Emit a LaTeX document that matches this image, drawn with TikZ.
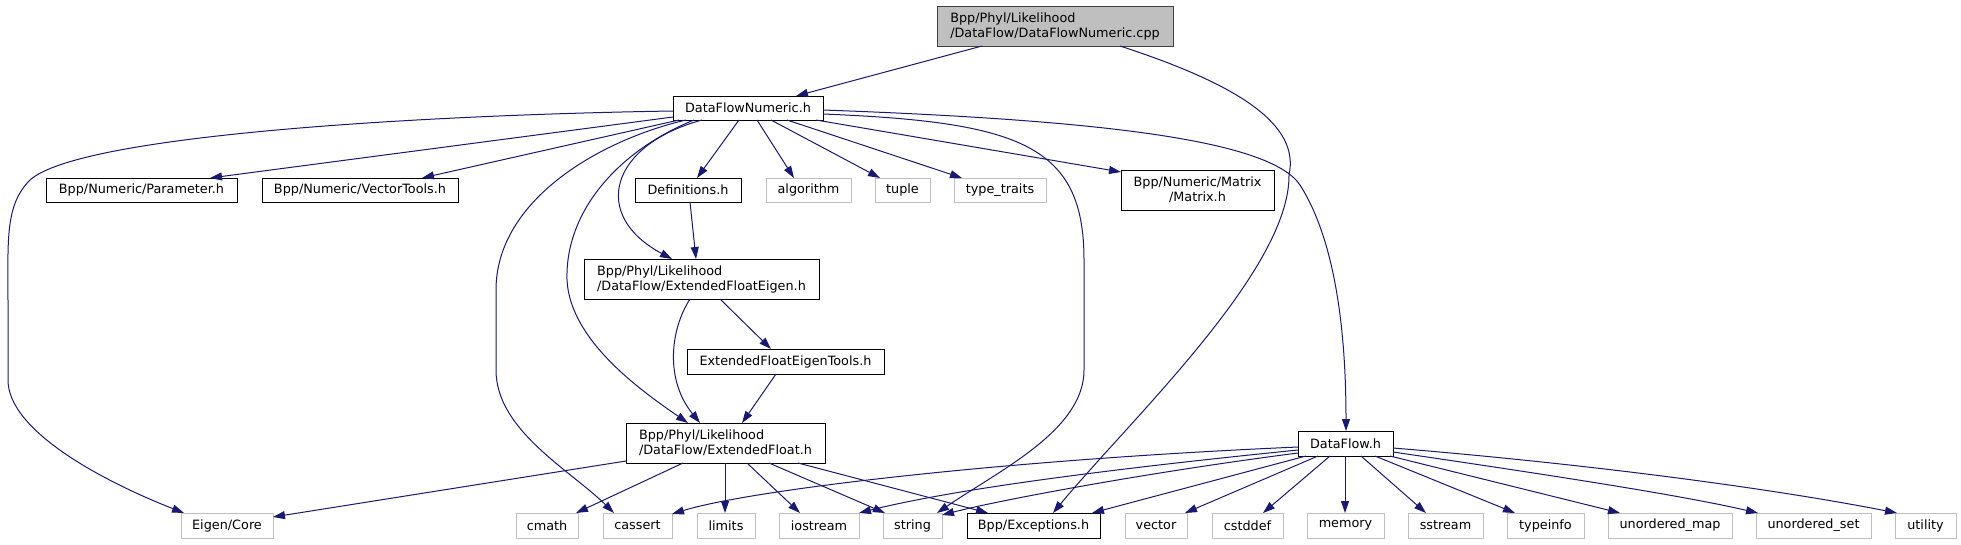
\documentclass[tikz,border=0pt]{standalone}
\usepackage{fontspec}
\setmainfont{DejaVu Sans}
\usetikzlibrary{arrows.meta,calc}
\definecolor{edgecol}{HTML}{191970}
\definecolor{sysgray}{HTML}{BFBFBF}
\definecolor{rootfill}{HTML}{BFBFBF}
\begin{document}
\begin{tikzpicture}[x=1pt,y=-1pt,
  box/.style={rectangle, anchor=north west, inner sep=0pt, outer sep=0pt, line width=1pt, font=\fontsize{12.8}{15}\selectfont, text=black},
  wh/.style 2 args={minimum width=#1pt, minimum height=#2pt},
  doc/.style={box, draw=black, fill=white},
  sys/.style={box, draw=sysgray, fill=white},
  rootbox/.style={box, draw=black!75, fill=rootfill},
  dep/.style={draw=edgecol, line width=1pt, -{Triangle[length=12pt,width=8pt]}}]
\useasboundingbox (0,0) rectangle (1961,544);
\fill[white] (0,0) rectangle (1961,544);

% nodes
\node[rootbox, wh={236}{40}, align=left] (root) at (937,6) {Bpp/Phyl/Likelihood\\/DataFlow/DataFlowNumeric.cpp};
\node[doc, wh={150}{24}] (dfn) at (673,96) {DataFlowNumeric.h};
\node[doc, wh={191}{24}] (param) at (46,178) {Bpp/Numeric/Parameter.h};
\node[doc, wh={196}{24}] (vtools) at (262,178) {Bpp/Numeric/VectorTools.h};
\node[doc, wh={106}{24}] (defs) at (635,178) {Definitions.h};
\node[sys, wh={85}{24}] (algo) at (766,178) {algorithm};
\node[sys, wh={55}{24}] (tuple) at (875,178) {tuple};
\node[sys, wh={92}{24}] (ttraits) at (954,178) {type\_traits};
\node[doc, wh={153}{40}, align=center] (matrix) at (1121,170) {Bpp/Numeric/Matrix\\/Matrix.h};
\node[doc, wh={235}{40}, align=left] (efe) at (584,259) {Bpp/Phyl/Likelihood\\/DataFlow/ExtendedFloatEigen.h};
\node[doc, wh={197}{25}] (efet) at (687,349) {ExtendedFloatEigenTools.h};
\node[doc, wh={199}{40}, align=left] (ef) at (626,423) {Bpp/Phyl/Likelihood\\/DataFlow/ExtendedFloat.h};
\node[doc, wh={95}{25}] (dflow) at (1298,431) {DataFlow.h};
\node[sys, wh={92}{25}] (eigen) at (181,513) {Eigen/Core};
\node[sys, wh={62}{25}] (cmath) at (516,513) {cmath};
\node[sys, wh={69}{25}] (cassert) at (603,513) {cassert};
\node[sys, wh={58}{25}] (limits) at (697,513) {limits};
\node[sys, wh={80}{25}] (iostream) at (779,513) {iostream};
\node[sys, wh={59}{25}] (string) at (883,513) {string};
\node[doc, wh={133}{25}] (exc) at (967,513) {Bpp/Exceptions.h};
\node[sys, wh={62}{25}] (vector) at (1125,513) {vector};
\node[sys, wh={71}{25}] (cstddef) at (1212,513) {cstddef};
\node[sys, wh={77}{25}] (memory) at (1307,513) {memory};
\node[sys, wh={75}{25}] (sstream) at (1408,513) {sstream};
\node[sys, wh={77}{25}] (typeinfo) at (1507,513) {typeinfo};
\node[sys, wh={124}{25}] (umap) at (1608,513) {unordered\_map};
\node[sys, wh={115}{25}] (uset) at (1756,513) {unordered\_set};
\node[sys, wh={61}{25}] (utility) at (1895,513) {utility};

% edges from root
\draw[dep] ($(root.north west)+(45,40)$) -- ($(dfn.north west)+(123,0)$);
\draw[dep] ($(root.north west)+(183,40)$) .. controls (1240,85) and (1300,125) .. (1289,175) .. controls (1290,270) and (1130,420) .. ($(exc.north west)+(86,0)$);

% edges from DataFlowNumeric.h
\draw[dep] ($(dfn.north west)+(0,15)$) .. controls (420,115) and (80,135) .. (30,180) .. controls (5,205) and (8,240) .. (8,300) -- (8,380) .. controls (8,430) and (100,480) .. ($(eigen.north west)+(3,0)$);
\draw[dep] ($(dfn.north west)+(0,21)$) -- ($(param.north west)+(164,0)$);
\draw[dep] ($(dfn.north west)+(6,24)$) -- ($(vtools.north west)+(160,0)$);
\draw[dep] ($(dfn.north west)+(13,24)$) .. controls (600,140) and (496,200) .. (496,290) -- (496,370) .. controls (496,430) and (570,470) .. ($(cassert.north west)+(11,0)$);
\draw[dep] ($(dfn.north west)+(21,24)$) .. controls (620,150) and (565,210) .. (567,280) .. controls (570,340) and (640,390) .. ($(ef.north west)+(62,0)$);
\draw[dep] ($(dfn.north west)+(29,24)$) .. controls (610,145) and (590,215) .. ($(efe.north west)+(88,0)$);
\draw[dep] ($(dfn.north west)+(66,24)$) -- ($(defs.north west)+(62,0)$);
\draw[dep] ($(dfn.north west)+(84,24)$) -- ($(algo.north west)+(28,0)$);
\draw[dep] ($(dfn.north west)+(98,24)$) -- ($(tuple.north west)+(5,0)$);
\draw[dep] ($(dfn.north west)+(114,24)$) -- ($(ttraits.north west)+(8,0)$);
\draw[dep] ($(dfn.north west)+(143,24)$) -- ($(matrix.north west)+(0,2)$);
\draw[dep] ($(dfn.north west)+(150,18)$) .. controls (1020,122) and (1084,145) .. (1084,260) -- (1084,370) .. controls (1084,430) and (1000,470) .. ($(string.north west)+(54,0)$);
\draw[dep] ($(dfn.north west)+(150,14)$) .. controls (1100,120) and (1270,140) .. (1300,185) .. controls (1335,240) and (1346,330) .. ($(dflow.north west)+(48,0)$);

% Definitions, ExtendedFloatEigen, Tools
\draw[dep] ($(defs.north west)+(55,24)$) -- ($(efe.north west)+(112,0)$);
\draw[dep] ($(efe.north west)+(136,40)$) -- ($(efet.north west)+(84,0)$);
\draw[dep] ($(efe.north west)+(106,40)$) .. controls (670,330) and (665,380) .. ($(ef.north west)+(74,0)$);
\draw[dep] ($(efet.north west)+(89,25)$) -- ($(ef.north west)+(116,0)$);

% ExtendedFloat.h
\draw[dep] ($(ef.north west)+(0,38)$) -- ($(eigen.north west)+(92,4)$);
\draw[dep] ($(ef.north west)+(57,40)$) -- ($(cmath.north west)+(60,0)$);
\draw[dep] ($(ef.north west)+(99,40)$) -- ($(limits.north west)+(28,0)$);
\draw[dep] ($(ef.north west)+(121,40)$) -- ($(iostream.north west)+(21,0)$);
\draw[dep] ($(ef.north west)+(143,40)$) -- ($(string.north west)+(2,0)$);
\draw[dep] ($(ef.north west)+(172,40)$) -- ($(exc.north west)+(21,0)$);

% DataFlow.h
\draw[dep] ($(dflow.north west)+(0,16)$) .. controls (1000,460) and (750,490) .. ($(cassert.north west)+(69,1)$);
\draw[dep] ($(dflow.north west)+(0,19)$) .. controls (1100,470) and (950,490) .. ($(iostream.north west)+(80,0)$);
\draw[dep] ($(dflow.north west)+(0,22)$) .. controls (1150,472) and (1000,500) .. ($(string.north west)+(59,2)$);
\draw[dep] ($(dflow.north west)+(8,25)$) -- ($(exc.north west)+(125,0)$);
\draw[dep] ($(dflow.north west)+(20,25)$) -- ($(vector.north west)+(60,0)$);
\draw[dep] ($(dflow.north west)+(32,25)$) -- ($(cstddef.north west)+(51,0)$);
\draw[dep] ($(dflow.north west)+(47,25)$) -- ($(memory.north west)+(38,0)$);
\draw[dep] ($(dflow.north west)+(63,25)$) -- ($(sstream.north west)+(18,0)$);
\draw[dep] ($(dflow.north west)+(77,25)$) -- ($(typeinfo.north west)+(8,0)$);
\draw[dep] ($(dflow.north west)+(92,25)$) -- ($(umap.north west)+(12,0)$);
\draw[dep] ($(dflow.north west)+(95,21)$) .. controls (1550,475) and (1680,495) .. ($(uset.north west)+(2,0)$);
\draw[dep] ($(dflow.north west)+(95,17)$) .. controls (1600,465) and (1780,490) .. ($(utility.north west)+(2,0)$);
\end{tikzpicture}
\end{document}
